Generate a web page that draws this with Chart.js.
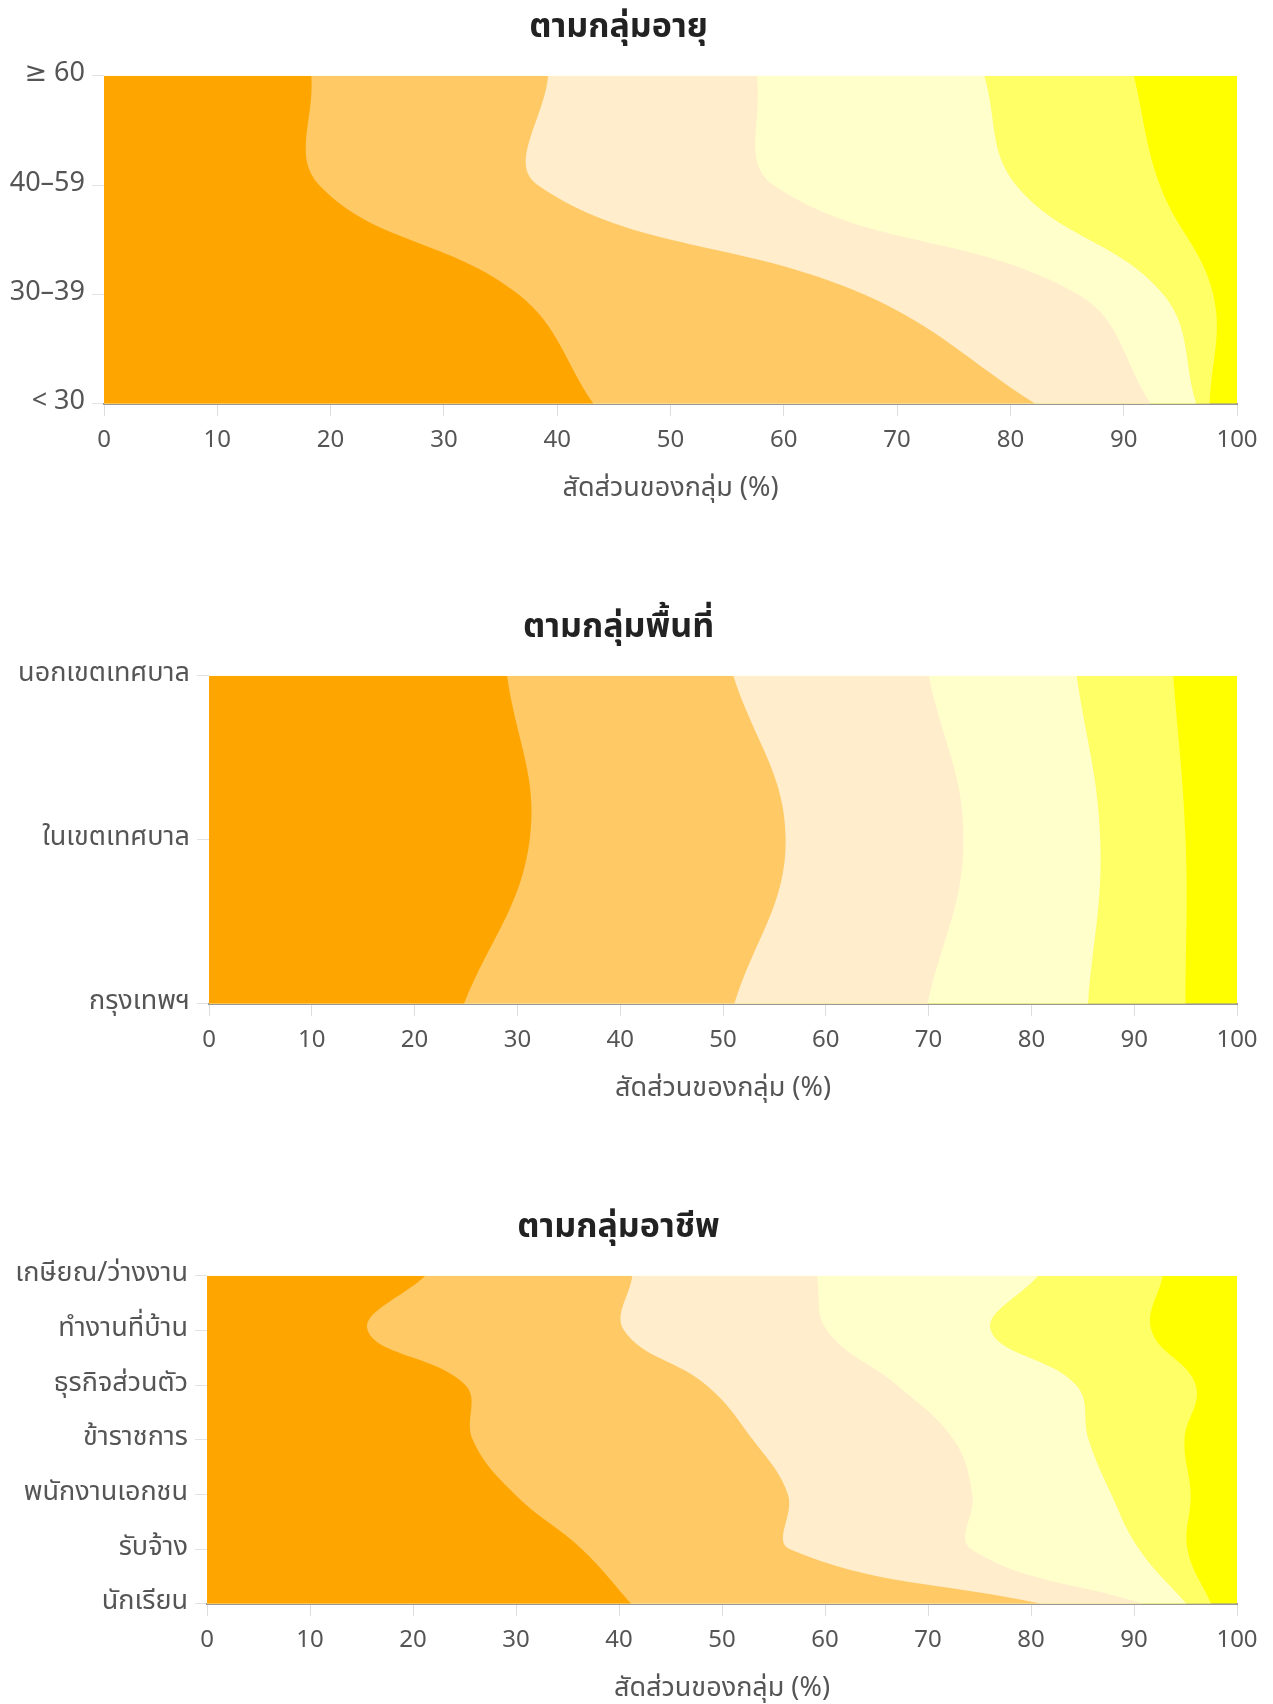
<!DOCTYPE html>
<html lang="th">
<head>
<meta charset="utf-8">
<title>สัดส่วนของกลุ่ม</title>
<script src="https://cdn.jsdelivr.net/npm/chart.js@4.4.1/dist/chart.umd.min.js"></script>
<style>
  body { margin: 0; background: #fff; overflow: hidden; }
  .block { position: absolute; left: 0; width: 1273px; height: 507px; }
</style>
</head>
<body>
<div class="block" style="top:0"><canvas id="ageChart" width="1273" height="507"></canvas></div>
<div class="block" style="top:600px"><canvas id="areaChart" width="1273" height="507"></canvas></div>
<div class="block" style="top:1200px"><canvas id="jobChart" width="1273" height="507"></canvas></div>
<script>
// categories, top row first
const ageLabels = ['≥ 60', '40–59', '30–39', '< 30'];
const areaLabels = ['นอกเขตเทศบาล', 'ในเขตเทศบาล', 'กรุงเทพฯ'];
const jobLabels = ['เกษียณ/ว่างงาน', 'ทำงานที่บ้าน', 'ธุรกิจส่วนตัว', 'ข้าราชการ', 'พนักงานเอกชน', 'รับจ้าง', 'นักเรียน'];

const xTicks = [0, 10, 20, 30, 40, 50, 60, 70, 80, 90, 100];
const seriesNames = ['กลุ่ม 1', 'กลุ่ม 2', 'กลุ่ม 3', 'กลุ่ม 4', 'กลุ่ม 5', 'กลุ่ม 6'];
const seriesColors = ['#FFA500', '#FFC966', '#FFEDCC', '#FFFFCC', '#FFFF66', '#FFFF00'];

// share (%) of each of the 6 bands, one row per category
const ageShares = [
    [18.3, 20.9, 18.4, 20.1, 13.2, 9.1],
    [19.0, 19.3, 20.8, 21.4, 12.7, 6.8],
    [36.6, 30.5, 18.9, 7.5, 4.4, 2.1],
    [43.2, 39.0, 10.2, 4.0, 1.2, 2.4]
];
const areaShares = [
    [29.0, 22.0, 19.0, 14.4, 9.4, 6.2],
    [31.2, 24.9, 17.3, 13.3, 8.3, 5.0],
    [24.8, 26.3, 18.8, 15.6, 9.5, 5.0]
];
const jobShares = [
    [21.2, 20.1, 17.9, 21.5, 12.1, 7.2],
    [15.6, 24.9, 19.7, 15.9, 15.6, 8.3],
    [25.1, 23.4, 18.5, 17.4, 11.6, 4.0],
    [25.8, 27.2, 19.5, 13.1, 9.3, 5.1],
    [29.9, 26.5, 17.9, 13.5, 7.7, 4.5],
    [36.4, 20.2, 17.6, 16.3, 4.7, 4.8],
    [41.2, 39.8, 9.9, 4.2, 2.4, 2.5]
];

const FONT = "'Noto Sans Thai', 'Noto Sans', 'DejaVu Sans', sans-serif";
const xTitle = 'สัดส่วนของกลุ่ม (%)';

function makeChart(id, title, labels, shares, axisWidth) {
    const datasets = seriesNames.map((name, s) => ({
        label: name,
        data: shares.map(row => row[s]),
        backgroundColor: seriesColors[s],
        borderWidth: 0,
        pointRadius: 0,
        tension: 0.4,
        fill: 'origin'
    }));

    return new Chart(document.getElementById(id), {
        type: 'line',
        data: { labels: labels, datasets: datasets },
        options: {
            indexAxis: 'y',
            responsive: false,
            animation: false,
            layout: { padding: { left: 0, right: 36, top: 0, bottom: 0 } },
            plugins: {
                legend: { display: false },
                tooltip: { enabled: false },
                title: {
                    display: true,
                    text: title,
                    color: '#222',
                    font: { family: FONT, size: 34, weight: 'bold' },
                    padding: { top: 10, bottom: 25 }
                }
            },
            scales: {
                x: {
                    type: 'linear',
                    stacked: true,
                    min: 0,
                    max: 100,
                    afterBuildTicks: axis => { axis.ticks = xTicks.map(v => ({ value: v })); },
                    grid: { drawOnChartArea: false, tickLength: 12, color: '#ddd' },
                    border: { color: '#999', width: 2 },
                    ticks: { color: '#555', padding: 12, font: { family: FONT, size: 24 } },
                    title: {
                        display: true,
                        text: xTitle,
                        color: '#555',
                        font: { family: FONT, size: 27 },
                        padding: { top: 6, bottom: 0 }
                    }
                },
                y: {
                    type: 'category',
                    afterFit: axis => { axis.width = axisWidth; },
                    grid: { drawOnChartArea: false, tickLength: 12, color: '#e2e2e2' },
                    border: { display: false },
                    ticks: { color: '#555', padding: 7, font: { family: FONT, size: 27 } }
                }
            }
        }
    });
}

makeChart('ageChart', 'ตามกลุ่มอายุ', ageLabels, ageShares, 104);
makeChart('areaChart', 'ตามกลุ่มพื้นที่', areaLabels, areaShares, 209);
makeChart('jobChart', 'ตามกลุ่มอาชีพ', jobLabels, jobShares, 207);
</script>
</body>
</html>
